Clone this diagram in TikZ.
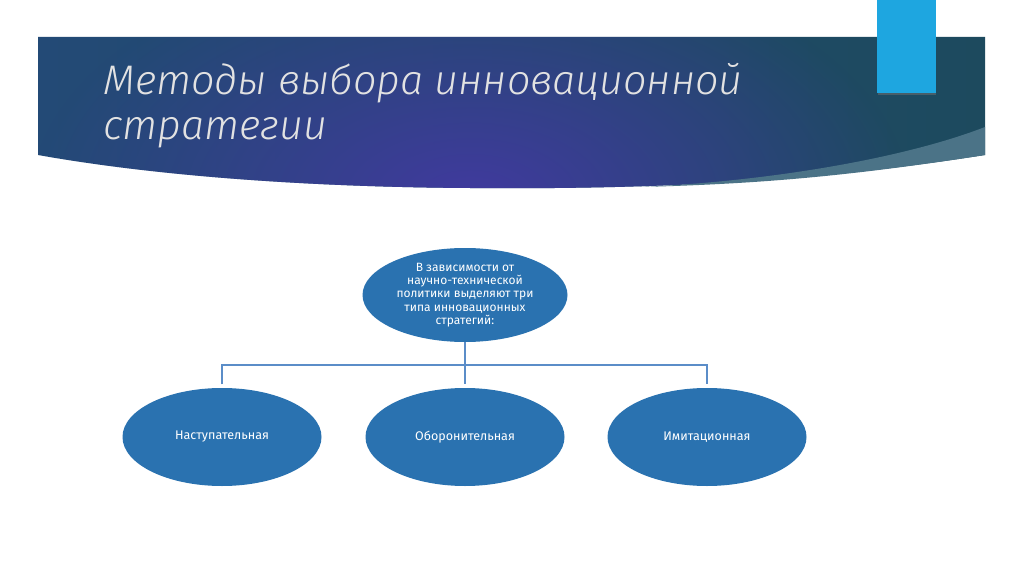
\documentclass[tikz,border=0pt]{standalone}
\usepackage{fontspec}
\setmainfont{Fira Sans}
\newfontfamily\titlefont{Fira Sans}[UprightFont=* Light, ItalicFont=* Light Italic]
\usetikzlibrary{shapes.geometric,fadings}
\tikzfading[name=softglow, inner color=transparent!0, outer color=transparent!100]
\definecolor{bandL}{HTML}{234A76}
\definecolor{bandR}{HTML}{1D4A5E}
\definecolor{bandP}{HTML}{413A9F}
\definecolor{stripe}{HTML}{4B7387}
\definecolor{accent}{HTML}{1EA6E0}
\definecolor{ellfill}{HTML}{2A72B0}
\definecolor{conncol}{HTML}{5B8DC8}
\definecolor{titlecol}{HTML}{E2E2E2}
\tikzset{
  ell/.style={ellipse, fill=ellfill, draw=none, inner sep=0pt, text=white, align=center},
  bigell/.style={ell, minimum width=153.75pt, minimum height=70.5pt, font=\fontsize{9}{10}\selectfont},
  smallell/.style={ell, minimum width=149.25pt, minimum height=73.5pt, font=\fontsize{9.4}{11}\selectfont},
  conn/.style={draw=conncol, line width=1.5pt},
  titletext/.style={anchor=base west, inner sep=0pt, text=titlecol, font=\titlefont\itshape\fontsize{31}{36}\selectfont}
}
\begin{document}
\begin{tikzpicture}[x=0.75pt, y=-0.75pt]
\useasboundingbox (0,0) rectangle (1024,574);
\fill[white] (0,0) rectangle (1024,574);
% banner
\def\bannerpath{(38,37) -- (985,37) -- (985,155) .. controls (850,176) and (700,190) .. (470,188) .. controls (300,187) and (150,175) .. (38,155) -- cycle}
\shade[left color=bandL, right color=bandR] \bannerpath;
\begin{scope}
\clip \bannerpath;
\fill[bandP, path fading=softglow] (470,200) ellipse [x radius=440, y radius=250];
\end{scope}
% lighter stripe
\fill[stripe] (985,127) -- (985,155) .. controls (850,176) and (760,184) .. (640,187) .. controls (760,182) and (900,160) .. (985,127) -- cycle;
% accent rectangle
\fill[black!55, opacity=0.5] (878,0) rectangle (936,95);
\fill[accent] (877,0) rectangle (936,93.5);
% title
\node[titletext] (title1) at (103,95) {Методы выбора инновационной};
\node[titletext] (title2) at (103,140) {стратегии};
% diagram
\node[bigell] (top) at (465,295) {В зависимости от\\научно-технической\\политики выделяют три\\типа инновационных\\стратегий:};
\node[smallell] (c1) at (222,437) {Наступательная};
\node[smallell] (c2) at (465,437) {Оборонительная};
\node[smallell] (c3) at (707,437) {Имитационная};
\coordinate (bus) at (465,365);
\draw[conn] (top.south) -- ([yshift=2.5pt]c2.north);
\draw[conn] ([yshift=2.5pt]c1.north) -- (c1.north |- bus) -- (c3.north |- bus) -- ([yshift=2.5pt]c3.north);
\end{tikzpicture}
\end{document}
